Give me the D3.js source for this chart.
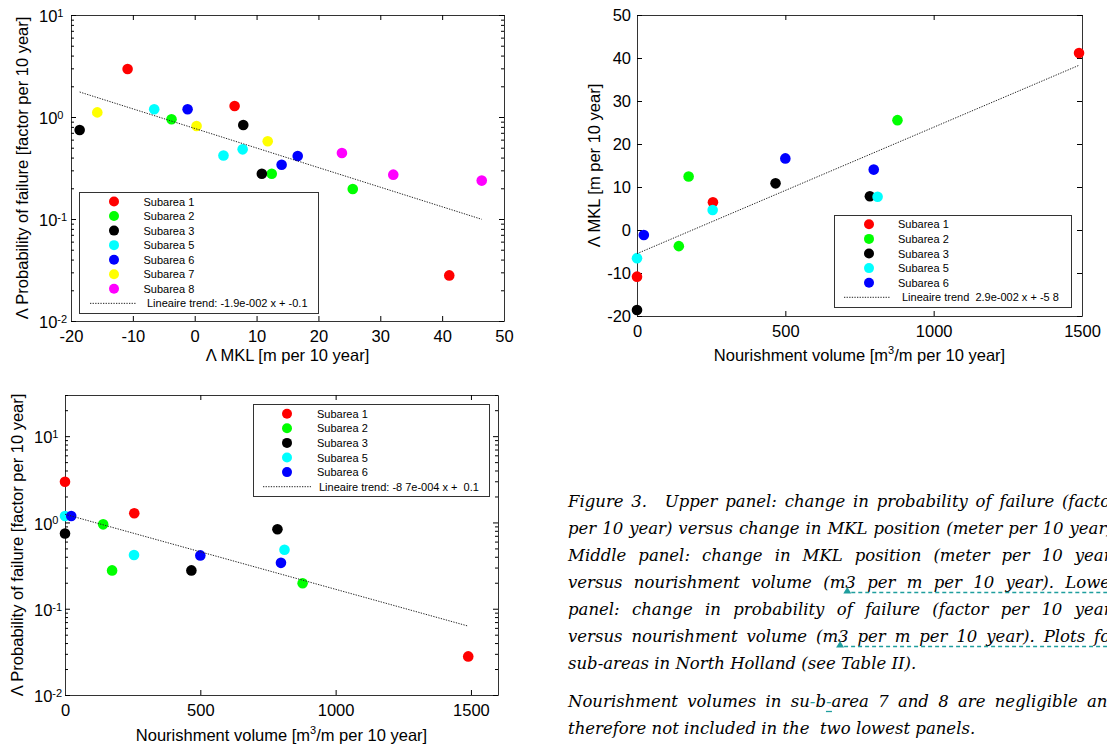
<!DOCTYPE html>
<html><head><meta charset="utf-8">
<script src="https://cdn.jsdelivr.net/npm/d3@7"></script>
<style>
html,body{margin:0;padding:0;background:#fff;overflow:hidden}
svg{display:block}
</style></head><body>
<svg id="chart" width="1107" height="751"></svg>
<script>
// ---------------- DATA ----------------
const subareas = ["Subarea 1","Subarea 2","Subarea 3","Subarea 5","Subarea 6","Subarea 7","Subarea 8"];
const subareaColors = ["#ff0000","#00ff00","#000000","#00ffff","#0000ff","#ffff00","#ff00ff"];
// change in MKL position [m per 10 year], three points per subarea
const mklChange = [
  [-10.85, 6.45, 41.15],
  [-3.75, 12.45, 25.55],
  [-18.6, 7.85, 10.85],
  [-6.55, 4.65, 7.75],
  [-1.15, 14.05, 16.65],
  [-15.75, 0.3, 11.8],
  [23.8, 32.1, 46.4]
];
// change in probability of failure [factor per 10 year]
const failureFactor = [
  [2.96, 1.28, 0.028],
  [0.95, 0.278, 0.197],
  [0.745, 0.835, 0.278],
  [1.19, 0.42, 0.482],
  [1.19, 0.34, 0.415],
  [1.11, 0.816, 0.578],
  [0.444, 0.272, 0.238]
];
// nourishment volume [m3/m per 10 year] (subareas 7 and 8 not included)
const nourishmentVolume = [
  [0, 256, 1490],
  [141, 174, 878],
  [0, 785, 467],
  [0, 255, 811],
  [23, 798, 500]
];
// linear trends [slope, intercept] (log10 for failure factor)
const trendFailureVsMkl = [-0.0192, -0.112];
const trendMklVsVolume = [0.0294, -5.5];
const trendFailureVsVolume = [-0.00087, 0.095];
const trendLabels = [
  "Lineaire trend: -1.9e-002 x + -0.1",
  "Lineaire trend  2.9e-002 x + -5 8",
  "Lineaire trend: -8 7e-004 x +  0.1"
];
const mklTicks = [-20,-10,0,10,20,30,40,50];
const volumeTicks = [0,500,1000,1500];
const logTicks = [0.01,0.1,1,10];
const mklAxisTicks = [-20,-10,0,10,20,30,40,50];
const axisLabelFailure = "Λ Probability of failure [factor per 10 year]";
const axisLabelMkl = "Λ MKL [m per 10 year]";
const axisLabelVolume = ["Nourishment volume [m", "3", "/m per 10 year]"];

const captionPara1 = [
  "Figure 3.\tUpper panel: change in probability of failure (factor",
  "per 10 year) versus change in MKL position (meter per 10 year).",
  "Middle panel: change in MKL position (meter per 10 year)",
  "versus nourishment volume (m3 per m per 10 year). Lower",
  "panel: change in probability of failure (factor per 10 year)",
  "versus nourishment volume (m3 per m per 10 year). Plots for",
  "sub-areas in North Holland (see Table II)."
];
const captionPara2 = [
  "Nourishment volumes in su-b-area 7 and 8 are negligible and",
  "therefore not included in the  two lowest panels."
];

// ---------------- DRAWING ----------------
const svg = d3.select("#chart");
const SANS = "'Liberation Sans', Arial, Helvetica, sans-serif";
const AX_FS = 16.5;
const BOX = "#333";

function styleAxis(sel){
  sel.select(".domain").attr("stroke", BOX);
  sel.selectAll(".tick line").attr("stroke", "#000");
  sel.selectAll("text").attr("font-family", SANS).attr("font-size", AX_FS).attr("fill","#000");
  sel.attr("font-family", SANS);
}

function drawPanel(p){
  const g = svg.append("g");
  const x = d3.scaleLinear().domain(p.xDomain).range([p.left, p.right]);
  const y = (p.yLog ? d3.scaleLog() : d3.scaleLinear()).domain(p.yDomain).range([p.bottom, p.top]);
  const fmt = d => String(d);

  g.append("g").attr("transform",`translate(0,${p.bottom})`)
    .call(d3.axisBottom(x).tickValues(p.xTicks).tickSize(-5).tickSizeOuter(0).tickPadding(9).tickFormat(fmt))
    .call(styleAxis);
  g.append("g").attr("transform",`translate(0,${p.top})`)
    .call(d3.axisTop(x).tickValues(p.xTicks).tickSize(-5).tickSizeOuter(0).tickFormat(""))
    .call(styleAxis);

  if (p.yLog){
    g.append("g").attr("transform",`translate(${p.left},0)`)
      .call(d3.axisLeft(y).tickValues(p.yTicks).tickSize(-5).tickSizeOuter(0).tickFormat(""))
      .call(styleAxis);
    g.append("g").attr("transform",`translate(${p.right},0)`)
      .call(d3.axisRight(y).tickValues(p.yTicks).tickSize(-5).tickSizeOuter(0).tickFormat(""))
      .call(styleAxis);
    // minor ticks
    const minor = [];
    const lo = Math.floor(Math.log10(p.yDomain[0])), hi = Math.ceil(Math.log10(p.yDomain[1]));
    for (let e = lo; e < hi; e++) for (let m = 2; m <= 9; m++){
      const v = m * Math.pow(10, e);
      if (v > p.yDomain[0] && v <= p.yDomain[1] * 1.0001) minor.push(v);
    }
    g.append("g").attr("transform",`translate(${p.left},0)`)
      .call(d3.axisLeft(y).tickValues(minor).tickSize(-3).tickSizeOuter(0).tickFormat(""))
      .call(styleAxis).select(".domain").remove();
    g.append("g").attr("transform",`translate(${p.right},0)`)
      .call(d3.axisRight(y).tickValues(minor).tickSize(-3).tickSizeOuter(0).tickFormat(""))
      .call(styleAxis).select(".domain").remove();
    // labels 10^k
    p.yTicks.forEach(v => {
      const e = Math.round(Math.log10(v));
      const t = g.append("text").attr("x", p.tenX).attr("y", y(v) + 7.3)
        .attr("font-family", SANS).attr("font-size", AX_FS).attr("fill","#000");
      t.append("tspan").text("10");
      t.append("tspan").attr("font-size", 11).attr("dy", -5.5).text(String(e));
    });
  } else {
    g.append("g").attr("transform",`translate(${p.left},0)`)
      .call(d3.axisLeft(y).tickValues(p.yTicks).tickSize(-5).tickSizeOuter(0).tickPadding(6).tickFormat(fmt))
      .call(styleAxis);
    g.append("g").attr("transform",`translate(${p.right},0)`)
      .call(d3.axisRight(y).tickValues(p.yTicks).tickSize(-5).tickSizeOuter(0).tickFormat(""))
      .call(styleAxis);
  }

  // axis labels
  const xl = g.append("text").attr("x", (p.left + p.right) / 2).attr("y", p.xLabelY)
    .attr("text-anchor","middle").attr("font-family", SANS).attr("font-size", AX_FS).attr("fill","#000");
  if (Array.isArray(p.xLabel)){
    xl.append("tspan").text(p.xLabel[0]);
    xl.append("tspan").attr("font-size", 11).attr("dy", -7).text(p.xLabel[1]);
    xl.append("tspan").attr("dy", 7).text(p.xLabel[2]);
  } else xl.text(p.xLabel);
  g.append("text").attr("transform",`translate(${p.yLabelX},${(p.top + p.bottom) / 2}) rotate(-90)`)
    .attr("text-anchor","middle").attr("dy","0.35em").attr("font-family", SANS).attr("font-size", AX_FS)
    .attr("fill","#000").text(p.yLabel);

  // points
  const n = p.xs.length;
  for (let i = 0; i < n; i++){
    g.append("g").selectAll("circle").data(d3.range(p.xs[i].length)).join("circle")
      .attr("cx", j => x(p.xs[i][j])).attr("cy", j => y(p.ys[i][j])).attr("r", 5.3)
      .attr("fill", subareaColors[i]);
  }

  // trend
  const allX = p.xs.flat();
  const ext = d3.extent(allX);
  const tf = p.yLog ? (v => Math.pow(10, p.trend[0] * v + p.trend[1])) : (v => p.trend[0] * v + p.trend[1]);
  const line = d3.line().x(d => x(d)).y(d => y(tf(d)));
  g.append("path").attr("d", line(ext)).attr("fill","none").attr("stroke","#222")
    .attr("stroke-width", 1).attr("stroke-dasharray","1.3,1.3");

  // legend
  const L = p.legend;
  const lg = g.append("g");
  lg.append("rect").attr("x", L.x + 0.5).attr("y", L.y + 0.5).attr("width", L.w).attr("height", L.h)
    .attr("fill","#fff").attr("stroke", BOX).attr("stroke-width", 1);
  for (let i = 0; i < n; i++){
    const ry = L.row0 + i * L.step;
    lg.append("circle").attr("cx", L.mx).attr("cy", ry).attr("r", 5).attr("fill", subareaColors[i]);
    lg.append("text").attr("x", L.tx).attr("y", ry + 4).attr("font-family", SANS).attr("font-size", 11)
      .attr("fill","#000").text(subareas[i]);
  }
  const ty = L.row0 + n * L.step;
  lg.append("line").attr("x1", L.lx0).attr("x2", L.lx1).attr("y1", ty).attr("y2", ty)
    .attr("stroke","#222").attr("stroke-width",1).attr("stroke-dasharray","1.3,1.3");
  lg.append("text").attr("x", L.ttx).attr("y", ty + 4).attr("font-family", SANS).attr("font-size", 11)
    .attr("fill","#000").attr("xml:space","preserve").style("white-space","pre").text(p.trendLabel);
}

// Upper panel
drawPanel({
  left: 71, right: 504, top: 15, bottom: 321,
  xDomain: [-20, 50], yDomain: [0.01, 10], yLog: true,
  xTicks: mklTicks, yTicks: logTicks, tenX: 39,
  xs: mklChange, ys: failureFactor,
  trend: trendFailureVsMkl, trendLabel: trendLabels[0],
  xLabel: axisLabelMkl, xLabelY: 361, yLabel: axisLabelFailure, yLabelX: 22,
  legend: {x: 79, y: 192, w: 239, h: 121, mx: 114, tx: 143.5, row0: 201.5, step: 14.55, lx0: 90, lx1: 136, ttx: 147}
});

// Middle panel
drawPanel({
  left: 637, right: 1082, top: 15, bottom: 316,
  xDomain: [0, 1500], yDomain: [-20, 50], yLog: false,
  xTicks: volumeTicks, yTicks: mklAxisTicks,
  xs: nourishmentVolume, ys: mklChange.slice(0, 5),
  trend: trendMklVsVolume, trendLabel: trendLabels[1],
  xLabel: axisLabelVolume, xLabelY: 361, yLabel: axisLabelMkl, yLabelX: 594,
  legend: {x: 834, y: 215, w: 237, h: 92, mx: 869, tx: 898, row0: 224.3, step: 14.6, lx0: 844, lx1: 890, ttx: 902}
});

// Lower panel
drawPanel({
  left: 65, right: 498, top: 395, bottom: 695,
  xDomain: [0, 1600], yDomain: [0.01, 30], yLog: true,
  xTicks: volumeTicks, yTicks: logTicks, tenX: 34,
  xs: nourishmentVolume, ys: failureFactor.slice(0, 5),
  trend: trendFailureVsVolume, trendLabel: trendLabels[2],
  xLabel: axisLabelVolume, xLabelY: 741, yLabel: axisLabelFailure, yLabelX: 17,
  legend: {x: 253, y: 404, w: 236, h: 92, mx: 287, tx: 317, row0: 413.7, step: 14.6, lx0: 263, lx1: 311, ttx: 319}
});

// ---------------- CAPTION ----------------
const SERIF = "'DejaVu Serif', serif";
const CAP_FS = 16.5;
const TEAL = "#1f9e9e";
const capG = svg.append("g").attr("font-family", SERIF).attr("font-style","italic")
  .attr("font-size", CAP_FS).attr("fill","#000");
const capX = 568, capR = 1118;

function layoutLine(text, y, justify){
  const tabbed = text.split("\t");
  const words = [];
  const extra = [];
  tabbed.forEach((seg, k) => {
    seg.split(" ").forEach((w, j, arr) => {
      words.push(w);
      extra.push((k < tabbed.length - 1 && j === arr.length - 1) ? 10 : 0);
    });
  });
  const nodes = words.map(w => {
    const t = capG.append("text").attr("y", y);
    if (w === "su-b-area"){
      t.append("tspan").text("su");
      t.append("tspan").attr("fill", TEAL).text("-");
      t.append("tspan").text("b");
      t.append("tspan").attr("fill", TEAL).text("-");
      t.append("tspan").text("area");
    } else t.text(w);
    return t;
  });
  const widths = nodes.map(nd => nd.node().getComputedTextLength());
  const spaceW = CAP_FS * 0.318;
  let gap = spaceW;
  if (justify) gap = (capR - capX - d3.sum(widths) - d3.sum(extra)) / (words.length - 1);
  let cx = capX;
  nodes.forEach((nd, i) => { nd.attr("x", cx); cx += widths[i] + gap + extra[i]; });
  words.forEach((w, i) => {
    if (w === "(m3"){
      const x3 = nodes[i].node().getStartPositionOfChar(2).x;
      capG.append("line").attr("x1", x3 + 6).attr("x2", 1107).attr("y1", y + 4.5).attr("y2", y + 4.5)
        .attr("stroke", TEAL).attr("stroke-width", 1.3).attr("stroke-dasharray","4,3");
      capG.append("path").attr("d", `M${x3 - 2},${y + 5.5} L${x3 + 2},${y - 1} L${x3 + 6},${y + 5.5} Z`)
        .attr("fill", TEAL);
    }
    if (w === "su-b-area"){
      const xs = nodes[i].node().getStartPositionOfChar(4).x;
      capG.append("line").attr("x1", xs).attr("x2", xs + 6).attr("y1", y + 4.5).attr("y2", y + 4.5)
        .attr("stroke", TEAL).attr("stroke-width", 1.3);
    }
  });
}

const para1Y = [507, 534, 561, 588, 615, 642, 669];
captionPara1.forEach((l, i) => layoutLine(l, para1Y[i], i < captionPara1.length - 1));
const para2Y = [707, 734];
captionPara2.forEach((l, i) => layoutLine(l, para2Y[i], i < captionPara2.length - 1));
</script>
</body></html>
